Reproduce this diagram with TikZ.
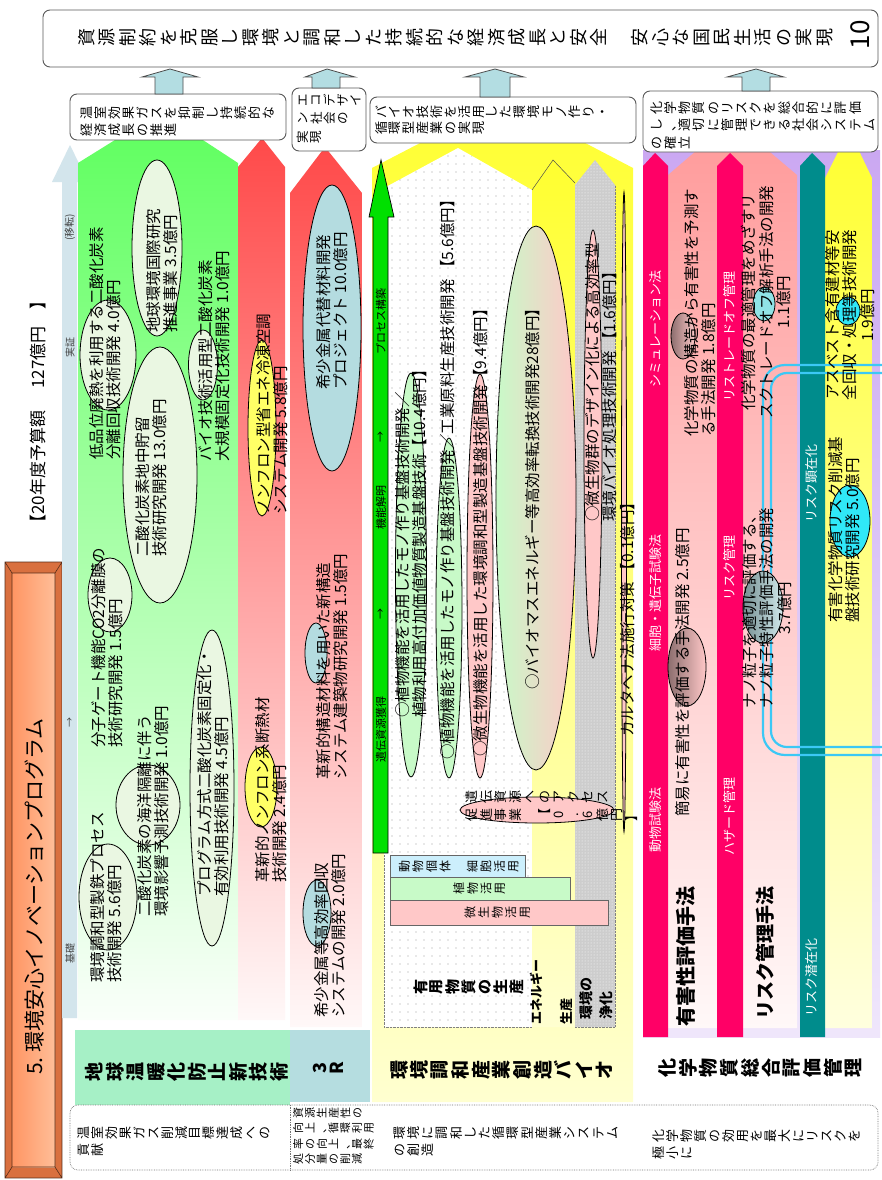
\documentclass[tikz,border=0pt]{standalone}
\usepackage{fontspec}
\setmainfont{Noto Sans CJK JP}
\usetikzlibrary{patterns.meta}
\newcommand\fz[2]{\fontsize{#1pt}{#2pt}\selectfont}
\newdimen\tpitch
\makeatletter
\def\t@loop#1{\ifx#1\relax\else\hbox to 1em{\vrule height .78\tpitch depth .22\tpitch width 0pt\hss#1\hss}\expandafter\t@loop\fi}
\newcommand\tate[2]{\vtop{\tpitch=#1\relax\offinterlineskip\t@loop#2\relax}}
\makeatother
\newcommand\tatetwo[4]{\hbox{\tate{#1}{#4}\kern#2\tate{#1}{#3}}}
\newcommand\tatethree[5]{\hbox{\tate{#1}{#5}\kern#2\tate{#1}{#4}\kern#2\tate{#1}{#3}}}
\newcommand\tatefour[6]{\hbox{\tate{#1}{#6}\kern#2\tate{#1}{#5}\kern#2\tate{#1}{#4}\kern#2\tate{#1}{#3}}}
\definecolor{arrblue}{HTML}{B3DDE2}
\definecolor{progblue}{HTML}{D3E5EC}
\definecolor{grtop}{HTML}{5EFF5E}
\definecolor{grbot}{HTML}{FAFFFA}
\definecolor{rdtop}{HTML}{FF4A4A}
\definecolor{rdbot}{HTML}{FFF8F8}
\definecolor{yetop}{HTML}{FFFF30}
\definecolor{yebot}{HTML}{FFFFD0}
\definecolor{mint}{HTML}{A6F0C6}
\definecolor{threeR}{HTML}{B5DDE0}
\definecolor{lavtop}{HTML}{CBA8F2}
\definecolor{lavbot}{HTML}{EFE6FB}
\definecolor{pktop}{HTML}{FF9A9A}
\definecolor{pkbot}{HTML}{FFF8F8}
\definecolor{mag}{HTML}{FF0066}
\definecolor{tealc}{HTML}{008C8C}
\definecolor{ellg}{HTML}{EAF7E2}
\definecolor{ellgreen}{HTML}{C8FAC8}
\definecolor{ellpink}{HTML}{FFC8C8}
\definecolor{ellblue}{HTML}{B4DCE0}
\definecolor{ellyel}{HTML}{FFFF66}
\definecolor{cyanl}{HTML}{3CC8F5}
\definecolor{orA}{HTML}{D9703F}
\definecolor{orB}{HTML}{FF9563}
\definecolor{orC}{HTML}{FFBE98}
\definecolor{graycol}{HTML}{CDCDCD}
\definecolor{greenarr}{HTML}{00E000}
\definecolor{cyanell}{HTML}{30E8F8}
\begin{document}
\begin{tikzpicture}[x=1pt,y=-1pt,
  rtx/.style={rotate=90, inner sep=0pt, align=left, anchor=west, font=\fz{15.5}{17}},
  rtc/.style={rotate=90, inner sep=0pt, align=center, font=\fz{15.5}{17.5}},
  tt/.style={rotate=90, inner sep=0pt, anchor=north},
  wlab/.style={rotate=90, inner sep=0pt, text=white, font=\fz{13}{13}},
  slab/.style={rotate=90, inner sep=0pt, font=\fz{10}{10}, text=black!75},
  ell/.style={draw=black, line width=0.8pt},
  goal/.style={draw=black!65, line width=0.9pt, rounded corners=7pt, fill=white},
  barr/.style={fill=arrblue, draw=black!70, line width=0.8pt},
  bigl/.style={rotate=90, inner sep=0pt, anchor=west, font=\bfseries\fz{20}{20}},
]
\useasboundingbox (0,0) rectangle (881,1180);
\fill[white] (0,0) rectangle (881,1180);

% ---------- title bar ----------
\fill[orA] (5,562) rectangle (62,1178);
\shade[left color=orB, right color=orC] (12,573) rectangle (55,1167);
\draw[black!60!orA, line width=0.6pt] (5,562) rectangle (62,1178) (12,573) rectangle (55,1167)
  (5,562)--(12,573) (62,562)--(55,573) (5,1178)--(12,1167) (62,1178)--(55,1167);
\node[rotate=90, anchor=west, inner sep=0, font=\fz{21}{21}] (title) at (35,1075) {5.~環境安心イノベーションプログラム};
\node[rotate=90, anchor=west, inner sep=0, font=\fz{17}{17}] (budget) at (38,532) {【20年度予算額\hspace{1.3em}127億円\hspace{1em}】};

% ---------- progress arrow ----------
\fill[progblue] (62,1018)--(62,182)--(52,182)--(70,145)--(88,182)--(77,182)--(77,1018)--cycle;
\node[slab] (p1) at (70,953) {基礎};
\node[slab] (p2) at (70,722) {→};
\node[slab] (p3) at (70,347) {実証};
\node[slab] (p4) at (70,227) {(移転)};

% ---------- warming / 3R columns ----------
\shade[top color=grtop, bottom color=grbot] (78,1020)--(78,163)--(160,112)--(238,163)--(238,1020)--cycle;
\shade[top color=rdtop, bottom color=rdbot] (238,1020)--(238,167)--(262,138)--(285,167)--(285,1020)--cycle;
\shade[top color=rdtop, bottom color=rdbot] (290,1027)--(290,193)--(325,147)--(362,193)--(362,1027)--cycle;

% ---------- bio region ----------
\shade[top color=yetop, bottom color=yebot] (372,1102)--(372,168)--(503,100)--(633,168)--(633,1102)--cycle;
\fill[white] (384,1027)--(384,188)--(458,148)--(532,190)--(532,1027)--cycle;
\fill[pattern={Dots[distance=8pt,radius=0.7pt]}, pattern color=black!38] (384,1027)--(384,188)--(458,148)--(532,190)--(532,1027)--cycle;
\draw[black!50, densely dotted] (384,855)--(384,1027)--(532,1027)--(532,190);
\shade[top color=yetop, bottom color=yebot] (532,1027)--(532,190)--(553,160)--(575,183)--(575,1027)--cycle;
\draw[black!70, line width=0.5pt] (532,190)--(553,160)--(575,183);
\fill[graycol] (575,1027)--(575,185)--(595,160)--(615,185)--(615,1027)--cycle;
\fill[pattern={Dots[distance=3pt,radius=0.5pt]}, pattern color=white] (575,1027)--(575,185)--(595,160)--(615,185)--(615,1027)--cycle;
\draw[black!50, densely dotted] (575,1027)--(615,1027)--(615,185);

% ---------- chemical region ----------
\shade[top color=lavtop, bottom color=lavbot] (643,150) rectangle (880,1037);
\shade[top color=pktop, bottom color=pkbot] (668,1028)--(668,175)--(732,120)--(797,175)--(797,1028)--cycle;
\shade[top color=yetop, bottom color=yebot!70!white] (825,1028)--(825,178)--(849,130)--(872,178)--(872,1028)--cycle;
\fill[mag] (643,1037)--(643,166)--(655,153)--(668,166)--(668,1037)--cycle;
\fill[mag] (717,1037)--(717,166)--(730,153)--(743,166)--(743,1037)--cycle;
\fill[tealc] (800,1037)--(800,166)--(812,153)--(825,166)--(825,1037)--cycle;

% ---------- category boxes ----------
\node[fill=mint, minimum width=215pt, minimum height=75pt, inner sep=0] (catA) at (182.5,1067.5) {};
\node[fill=threeR, minimum width=80pt, minimum height=72pt, inner sep=0] (catB) at (330,1066) {};
\node[tt, font=\bfseries\fz{19}{19}] (catAt) at (85,1072) {\tate{20pt}{地球温暖化防止新技術}};
\node[tt, font=\bfseries\fz{18}{18}] (catBt) at (313,1068) {\tate{16pt}{3R}};
\node[tt, font=\bfseries\fz{19}{19}] (catCt) at (390,1070) {\tate{20.3pt}{環境調和産業創造バイオ}};
\node[tt, font=\bfseries\fz{19}{19}] (catDt) at (658,1068) {\tate{20.5pt}{化学物質総合評価管理}};

% ---------- bottom description box ----------
\draw[black!55, densely dotted, line width=0.7pt, rounded corners=8pt] (70,1105) rectangle (878,1170);
\draw[black!55, densely dotted, line width=0.7pt] (290,1105)--(290,1170);
\node[tt, font=\fz{13}{13}] (d1) at (78,1141.5) {\tatetwo{13.8pt}{4pt}{温室効果ガス削減目標達成への}{貢献}};
\node[tt, font=\fz{11}{11}] (d2) at (293,1136) {\tatefour{11.7pt}{4.3pt}{資源生産性の}{向上、循環利用}{率の向上、最終}{処分量の削減}};
\node[tt, font=\fz{13}{13}] (d3) at (393,1141.5) {\tatetwo{14.2pt}{4pt}{環境に調和した循環型産業システム}{の創造}};
\node[tt, font=\fz{13}{13}] (d4) at (652,1144) {\tatetwo{14pt}{4pt}{化学物質の効用を最大にリスクを}{極小に}};

% ---------- cyan double frame ----------
\draw[cyanl, line width=2.2pt, rounded corners=22pt] (763,365) rectangle (905,755);
\draw[cyanl, line width=2.2pt, rounded corners=16pt] (771,373) rectangle (905,747);

% ---------- warming ellipses & texts ----------
\draw[ell, fill=ellg] (157,248) ellipse [x radius=25pt, y radius=88pt];
\draw[ell, fill=ellg] (108,355) ellipse [x radius=28pt, y radius=55pt];
\draw[ell, fill=ellg] (160,475) ellipse [x radius=37pt, y radius=128pt];
\draw[ell, fill=ellg] (203,365) ellipse [x radius=14.5pt, y radius=35pt];
\draw[ell, fill=ellg] (110,595) ellipse [x radius=22pt, y radius=37pt];
\draw[ell, fill=ellg] (148,805) ellipse [x radius=32pt, y radius=40pt];
\draw[ell, fill=ellg] (212,788) ellipse [x radius=22pt, y radius=158pt];
\draw[ell, fill=ellg] (108,897) ellipse [x radius=29pt, y radius=53pt];
\node[rtx] (g1) at (162.5,333) {地球環境国際研究\\推進事業 3.5億円};
\node[rtx] (g2) at (105.5,460) {低品位廃熱を利用する二酸化炭素\\分離回収技術開発 4.0億円};
\node[rtx] (g3) at (151.5,557) {二酸化炭素地中貯留\\技術研究開発 13.0億円};
\node[rtx] (g4) at (214.5,462) {バイオ技術活用型二酸化炭素\\大規模固定化技術開発 1.0億円};
\node[rtx] (g5) at (107.5,748) {分子ゲート機能CO2分離膜の\\技術研究開発 1.5億円};
\node[rtx] (g6) at (153.5,917) {二酸化炭素の海洋隔離に伴う\\環境影響予測技術開発 1.0億円};
\node[rtx] (g7) at (213.5,897) {プログラム方式二酸化炭素固定化・\\有効利用技術開発 4.5億円};
\node[rtx] (g8) at (106.5,983) {環境調和型製鉄プロセス\\技術開発 5.6億円};

\draw[ell, fill=ellyel] (262,428) ellipse [x radius=14pt, y radius=88pt];
\draw[ell, fill=ellyel] (261,787) ellipse [x radius=16pt, y radius=40pt];
\node[rtx] (r1) at (272,515) {ノンフロン型省エネ冷凍空調\\システム開発 5.8億円};
\node[rtx] (r2) at (271,883) {革新的ノンフロン系断熱材\\技術開発 2.4億円};

% ---------- 3R ----------
\draw[ell, fill=ellblue] (332,328) ellipse [x radius=29pt, y radius=143pt];
\draw[ell, fill=ellblue] (316,653) ellipse [x radius=11pt, y radius=30pt];
\draw[ell, fill=ellblue] (317,913) ellipse [x radius=14pt, y radius=33pt];
\node[rtx] (t1) at (332,390) {希少金属代替材料開発\\プロジェクト 10.0億円};
\node[rtx] (t2) at (332,780) {革新的構造材料を用いた新構造\\システム建築物研究開発 1.5億円};
\node[rtx] (t3) at (330,1018) {希少金属等高効率回収\\システムの開発 2.0億円};

% ---------- bio items ----------
\draw[black, line width=0.7pt, fill=greenarr] (373,853)--(373,217)--(369,217)--(381,160)--(394,217)--(388,217)--(388,853)--cycle;
\node[rotate=90, inner sep=0, font=\fz{11}{11}] (ga1) at (381,729) {遺伝資源獲得};
\node[rotate=90, inner sep=0, font=\fz{11}{11}] (ga2) at (381,614) {→};
\node[rotate=90, inner sep=0, font=\fz{11}{11}] (ga3) at (381,507) {機能解明};
\node[rotate=90, inner sep=0, font=\fz{11}{11}] (ga4) at (381,437) {→};
\node[rotate=90, inner sep=0, font=\fz{11}{11}] (ga5) at (381,321) {プロセス構築};

\draw[ell, fill=ellgreen] (411,575) ellipse [x radius=15.5pt, y radius=202pt];
\draw[ell, fill=ellgreen] (449,608) ellipse [x radius=13pt, y radius=170pt];
\draw[ell, fill=ellpink] (480,576) ellipse [x radius=13pt, y radius=202pt];
\draw[ell, left color=ellgreen, right color=ellpink] (536,498) ellipse [x radius=40pt, y radius=272pt];
\draw[ell, fill=ellpink] (593,444) ellipse [x radius=9pt, y radius=214pt];
\draw[ell, fill=ellpink] (624,512) ellipse [x radius=2.5pt, y radius=320pt];
\draw[ell, fill=ellpink] (537,810) ellipse [x radius=77pt, y radius=13pt];
\node[rtx] (e1) at (411,718) {○植物機能を活用したモノ作り基盤技術開発／\\植物利用高付加価値物質製造基盤技術【10.4億円】};
\node[rtx] (e2) at (448,760) {○植物機能を活用したモノ作り基盤技術開発／工業原料生産技術開発 【5.6億円】};
\node[rtx] (e3) at (481,757) {○微生物機能を活用した環境調和型製造基盤技術開発【9.4億円】};
\node[rtx] (e4) at (533,690) {○バイオマスエネルギー等高効率転換技術開発28億円】};
\node[rtx] (e5) at (601,522) {○微生物群のデザイン化による高効率型\\環境バイオ処理技術開発 【1.6億円】};
\node[rtx] (e6) at (628,737) {カルタヘナ法施行対策 【0.1億円】};
\node[tt, font=\fz{13}{13}] (e7) at (465,806) {\tatetwo{14.5pt}{5pt}{遺伝資源へのアクセス}{促進事業~【0.6億円】}};

\node[draw=black!60, fill=cyan!20, minimum width=135pt, minimum height=22pt, inner sep=0] (sb1) at (457.5,866) {};
\node[draw=black!60, fill=ellgreen, minimum width=180pt, minimum height=23pt, inner sep=0] (sb2) at (480,888.5) {};
\node[draw=black!60, fill=ellpink, minimum width=218pt, minimum height=25pt, inner sep=0] (sb3) at (499,912.5) {};
\node[tt, font=\fz{12}{12}] (sb1t) at (398,866) {\tate{13.6pt}{動物個体~細胞活用}};
\node[rotate=90, inner sep=0, font=\fz{12}{12}] (sb2t) at (480,888.5) {\tate{13.6pt}{植物活用}};
\node[rotate=90, inner sep=0, font=\fz{12}{12}] (sb3t) at (498,912.5) {\tate{13.6pt}{微生物活用}};
\node[tt, font=\bfseries\fz{15}{15}] (useful) at (413,987) {\tate{15.7pt}{有用物質の生産}};
\node[rotate=90, anchor=west, inner sep=0, font=\bfseries\fz{13}{13}] (en1) at (536,1025) {エネルギー};
\node[rotate=90, anchor=west, inner sep=0, font=\bfseries\fz{13}{13}] (en2) at (567,1025) {生産};
\node[rotate=90, anchor=west, inner sep=0, font=\bfseries\fz{14}{14}] (pu1) at (586,1020) {環境の};
\node[rotate=90, anchor=west, inner sep=0, font=\bfseries\fz{14}{14}] (pu2) at (606,1020) {浄化};

% ---------- chemical items ----------
\node[wlab] (c1a) at (656,329) {シミュレーション法};
\node[wlab] (c1b) at (656,593) {細胞・遺伝子試験法};
\node[wlab] (c1c) at (656,820) {動物試験法};
\node[wlab] (c3a) at (730,336) {リストレードオフ管理};
\node[wlab] (c3b) at (730,568) {リスク管理};
\node[wlab] (c3c) at (730,816) {ハザード管理};
\node[wlab] (c4a) at (812,483) {リスク顕在化};
\node[wlab] (c4b) at (812,977) {リスク潜在化};

\draw[ell, left color=black!45!ellpink, right color=ellpink] (683,336) ellipse [x radius=12pt, y radius=23pt];
\draw[ell, left color=black!45!ellpink, right color=ellpink] (687,667) ellipse [x radius=19pt, y radius=39pt];
\draw[ell, fill=ellblue!80!cyan] (764,304) ellipse [x radius=11pt, y radius=17pt];
\draw[ell, left color=black!35!ellblue, right color=ellblue!60!white] (763,607) ellipse [x radius=20pt, y radius=36pt];
\draw[ell, fill=cyanell] (848,311) ellipse [x radius=12pt, y radius=14pt];
\draw[ell, fill=cyanell] (850,521) ellipse [x radius=20pt, y radius=36pt];
\node[rtx] (h1) at (700,437) {化学物質の構造から有害性を予測す\\る手法開発 1.8億円};
\node[rtx] (h2) at (683,817) {簡易に有害性を評価する手法開発 2.5億円};
\node[rtc] (h3) at (766,302) {化学物質の最適管理をめざすリ\\スクトレードオフ解析手法の開発\\1.1億円};
\node[rtc] (h4) at (767,608) {ナノ粒子を適切に評価する、\\ナノ粒子特性評価手法の開発\\3.7億円};
\node[rtc] (h5) at (850,315) {アスベスト含有建材等安\\全回収・処理等技術開発\\1.9億円};
\node[rtx] (h6) at (844,623) {有害化学物質リスク削減基\\盤技術研究開発 5.0億円};
\node[bigl] (m1) at (686,1027) {有害性評価手法};
\node[bigl, font=\bfseries\fz{19}{19}] (m2) at (765,1020) {リスク管理手法};

% ---------- goal boxes & arrows ----------
\node[goal, minimum width=216pt, minimum height=46pt, inner sep=0] (b1) at (178,117) {};
\node[goal, minimum width=74pt, minimum height=63pt, inner sep=0] (b2) at (329,119.5) {};
\node[goal, minimum width=266pt, minimum height=46pt, inner sep=0] (b3) at (503,120) {};
\node[goal, minimum width=235pt, minimum height=61pt, inner sep=0] (b4) at (760.5,121.5) {};
\node[tt, font=\fz{13}{13}] (b1t) at (80,121.5) {\tatetwo{14pt}{4pt}{温室効果ガスを抑制し持続的な}{経済成長の推進}};
\node[tt, font=\fz{12.5}{12.5}] (b2t) at (297,118.5) {\tatethree{13pt}{6pt}{エコデザイ}{ン社会の}{実現}};
\node[tt, font=\fz{13}{13}] (b3t) at (375,120) {\tatetwo{13.8pt}{3pt}{バイオ技術を活用した環境モノ作り・}{循環型産業の実現}};
\node[tt, font=\fz{13}{13}] (b4t) at (650,125.5) {\tatethree{14.2pt}{4.5pt}{化学物質のリスクを総合的に評価}{し、適切に管理できる社会システム}{の確立}};

\draw[barr] (155,94)--(155,77)--(142,77)--(170,69)--(198,77)--(183,77)--(183,94)--cycle;
\draw[barr] (312,88)--(312,77)--(305,77)--(327,69)--(355,77)--(340,77)--(340,88)--cycle;
\draw[barr] (480,97)--(480,77)--(465,77)--(495,69)--(524,77)--(510,77)--(510,97)--cycle;
\draw[barr] (742,91)--(742,77)--(727,77)--(756,69)--(784,77)--(770,77)--(770,91)--cycle;

\node[goal, minimum width=835pt, minimum height=57pt, inner sep=0] (goal) at (460.5,38.5) {};
\node[tt, font=\fz{18}{18}] (goalt) at (77,38) {\tate{20.5pt}{資源制約を克服し環境と調和した持続的な経済成長と安全~安心な国民生活の実現}};
\node[rotate=90, inner sep=0, font=\fz{26}{26}] (ten) at (860,35) {10};
\end{tikzpicture}
\end{document}
